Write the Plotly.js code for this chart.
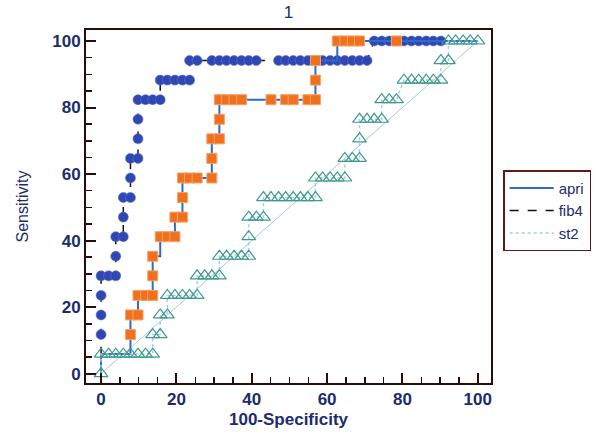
<!DOCTYPE html>
<html>
<head>
<meta charset="utf-8">
<script src="https://cdn.plot.ly/plotly-3.0.1.min.js"></script>
<style>html,body{margin:0;padding:0;background:#fff;}#chart{width:607px;height:434px;}</style>
</head>
<body>
<div id="chart"></div>
<script>
// ---- data ----
const fib4X = [0,0,0,0,0,0,2,3.9,3.9,3.9,5.9,5.9,5.9,7.8,7.8,7.8,9.8,9.8,9.8,9.8,11.8,13.7,15.7,15.7,17.6,19.6,21.6,23.5,23.5,25.5,29.4,31.4,33.3,35.3,37.3,39.2,41.2,47.1,49,51,52.9,54.9,56.9,58.8,60.8,62.7,64.7,66.7,68.6,70.6,72.5,74.5,76.5,78.4,80.4,82.4,84.3,86.3,88.2,90.2,100];
const fib4Y = [0,5.88,11.76,17.65,23.53,29.41,29.41,29.41,35.29,41.18,41.18,47.06,52.94,52.94,58.82,64.71,64.71,70.59,76.47,82.35,82.35,82.35,82.35,88.24,88.24,88.24,88.24,88.24,94.12,94.12,94.12,94.12,94.12,94.12,94.12,94.12,94.12,94.12,94.12,94.12,94.12,94.12,94.12,94.12,94.12,94.12,94.12,94.12,94.12,94.12,100,100,100,100,100,100,100,100,100,100,100];

const apriX = [0,0,2,3.9,5.9,7.8,7.8,7.8,9.8,9.8,11.8,13.7,13.7,13.7,15.7,17.6,19.6,19.6,21.6,21.6,21.6,23.5,25.5,29.4,29.4,29.4,31.4,31.4,31.4,33.3,35.3,37.3,45.1,49,51,54.9,56.9,56.9,56.9,62.7,64.7,66.7,68.6,78.4,100];
const apriY = [0,5.88,5.88,5.88,5.88,5.88,11.76,17.65,17.65,23.53,23.53,23.53,29.41,35.29,41.18,41.18,41.18,47.06,47.06,52.94,58.82,58.82,58.82,58.82,64.71,70.59,70.59,76.47,82.35,82.35,82.35,82.35,82.35,82.35,82.35,82.35,82.35,88.24,94.12,100,100,100,100,100,100];

const st2X = [0,0,2,3.9,5.9,7.8,9.8,11.8,13.7,13.7,15.7,15.7,17.6,17.6,19.6,21.6,23.5,25.5,25.5,27.5,29.4,31.4,31.4,33.3,35.3,37.3,39.2,39.2,39.2,41.2,43.1,43.1,45.1,47.1,49,51,52.9,54.9,56.9,56.9,58.8,60.8,62.7,64.7,64.7,66.7,68.6,68.6,68.6,70.6,72.5,74.5,74.5,76.5,78.4,80.4,82.4,84.3,86.3,88.2,90.2,90.2,92.2,92.2,94.1,96.1,98,100];
const st2Y = [0,5.88,5.88,5.88,5.88,5.88,5.88,5.88,5.88,11.76,11.76,17.65,17.65,23.53,23.53,23.53,23.53,23.53,29.41,29.41,29.41,29.41,35.29,35.29,35.29,35.29,35.29,41.18,47.06,47.06,47.06,52.94,52.94,52.94,52.94,52.94,52.94,52.94,52.94,58.82,58.82,58.82,58.82,58.82,64.71,64.71,64.71,70.59,76.47,76.47,76.47,76.47,82.35,82.35,82.35,88.24,88.24,88.24,88.24,88.24,88.24,94.12,94.12,100,100,100,100,100];

const diagX = [0,100];
const diagY = [0,100];
const tickVals = [0,20,40,60,80,100];
const seriesNames = ['apri','fib4','st2'];
const chartTitle = '1';
const xTitle = '100-Specificity';
const yTitle = 'Sensitivity';

// ---- styles ----
const navy = '#1c2c6c';
const frame = '#2a0c0c';
const font = 'Liberation Sans, Arial, sans-serif';

const traces = [
  {x: diagX, y: diagY, mode: 'lines', line: {color: '#a6c8e4', width: 1}, showlegend: false, hoverinfo: 'skip'},
  {x: fib4X, y: fib4Y, mode: 'lines', name: seriesNames[1], legendrank: 2,
   line: {color: '#111111', width: 1.5, dash: 'dash'}},
  {x: fib4X.slice(2, -1), y: fib4Y.slice(2, -1), mode: 'markers', showlegend: false,
   marker: {symbol: 'circle', size: 10, color: '#2e47b2', line: {color: '#6072cf', width: 0.6}}},
  {x: apriX, y: apriY, mode: 'lines', name: seriesNames[0], legendrank: 1,
   line: {color: '#2f6bc8', width: 2, shape: 'hv'}},
  {x: apriX.slice(6, -1), y: apriY.slice(6, -1), mode: 'markers', showlegend: false,
   marker: {symbol: 'square', size: 10, color: '#f0701e', line: {color: '#f4a36a', width: 1}}},
  {x: st2X, y: st2Y, mode: 'lines', name: seriesNames[2], legendrank: 3,
   line: {color: '#a3cfdc', width: 1.5, dash: 'dot'}},
  {x: st2X, y: st2Y, mode: 'markers', showlegend: false,
   marker: {symbol: 'triangle-up-open', size: 12, color: '#3f9a8c', line: {color: '#3f9a8c', width: 1.2}}}
];

const axisCommon = {
  showgrid: false, zeroline: false, showline: true, mirror: true,
  linecolor: frame, linewidth: 2,
  ticks: 'inside', ticklen: 10, tickwidth: 2, tickcolor: frame,
  tickvals: tickVals,
  tickfont: {family: font, size: 17, color: navy, weight: 'bold'},
  minor: {dtick: 5, ticks: 'inside', ticklen: 6, tickwidth: 1.5, tickcolor: frame, showgrid: false}
};

const layout = {
  width: 607, height: 434,
  margin: {l: 86, r: 116, t: 30, b: 51},
  paper_bgcolor: '#ffffff', plot_bgcolor: '#ffffff',
  font: {family: font, color: navy},
  title: {text: chartTitle, font: {family: font, size: 17, color: navy},
          xref: 'paper', x: 0.5, yref: 'container', y: 0.972, yanchor: 'middle'},
  xaxis: Object.assign({}, axisCommon, {
    range: [-4, 103.5],
    title: {text: xTitle, font: {family: font, size: 17, color: navy, weight: 'bold'}, standoff: 5}
  }),
  yaxis: Object.assign({}, axisCommon, {
    range: [-2.8, 103.3],
    title: {text: yTitle, font: {family: font, size: 16, color: navy}, standoff: 20}
  }),
  legend: {x: 1.03, y: 0.603, xanchor: 'left', yanchor: 'top',
           bordercolor: '#5a1a1a', borderwidth: 1.5, bgcolor: '#ffffff', itemwidth: 44,
           font: {family: font, size: 15, color: navy}, tracegroupgap: 0},
  showlegend: true
};

Plotly.newPlot('chart', traces, layout, {displayModeBar: false, staticPlot: true});
</script>
</body>
</html>
